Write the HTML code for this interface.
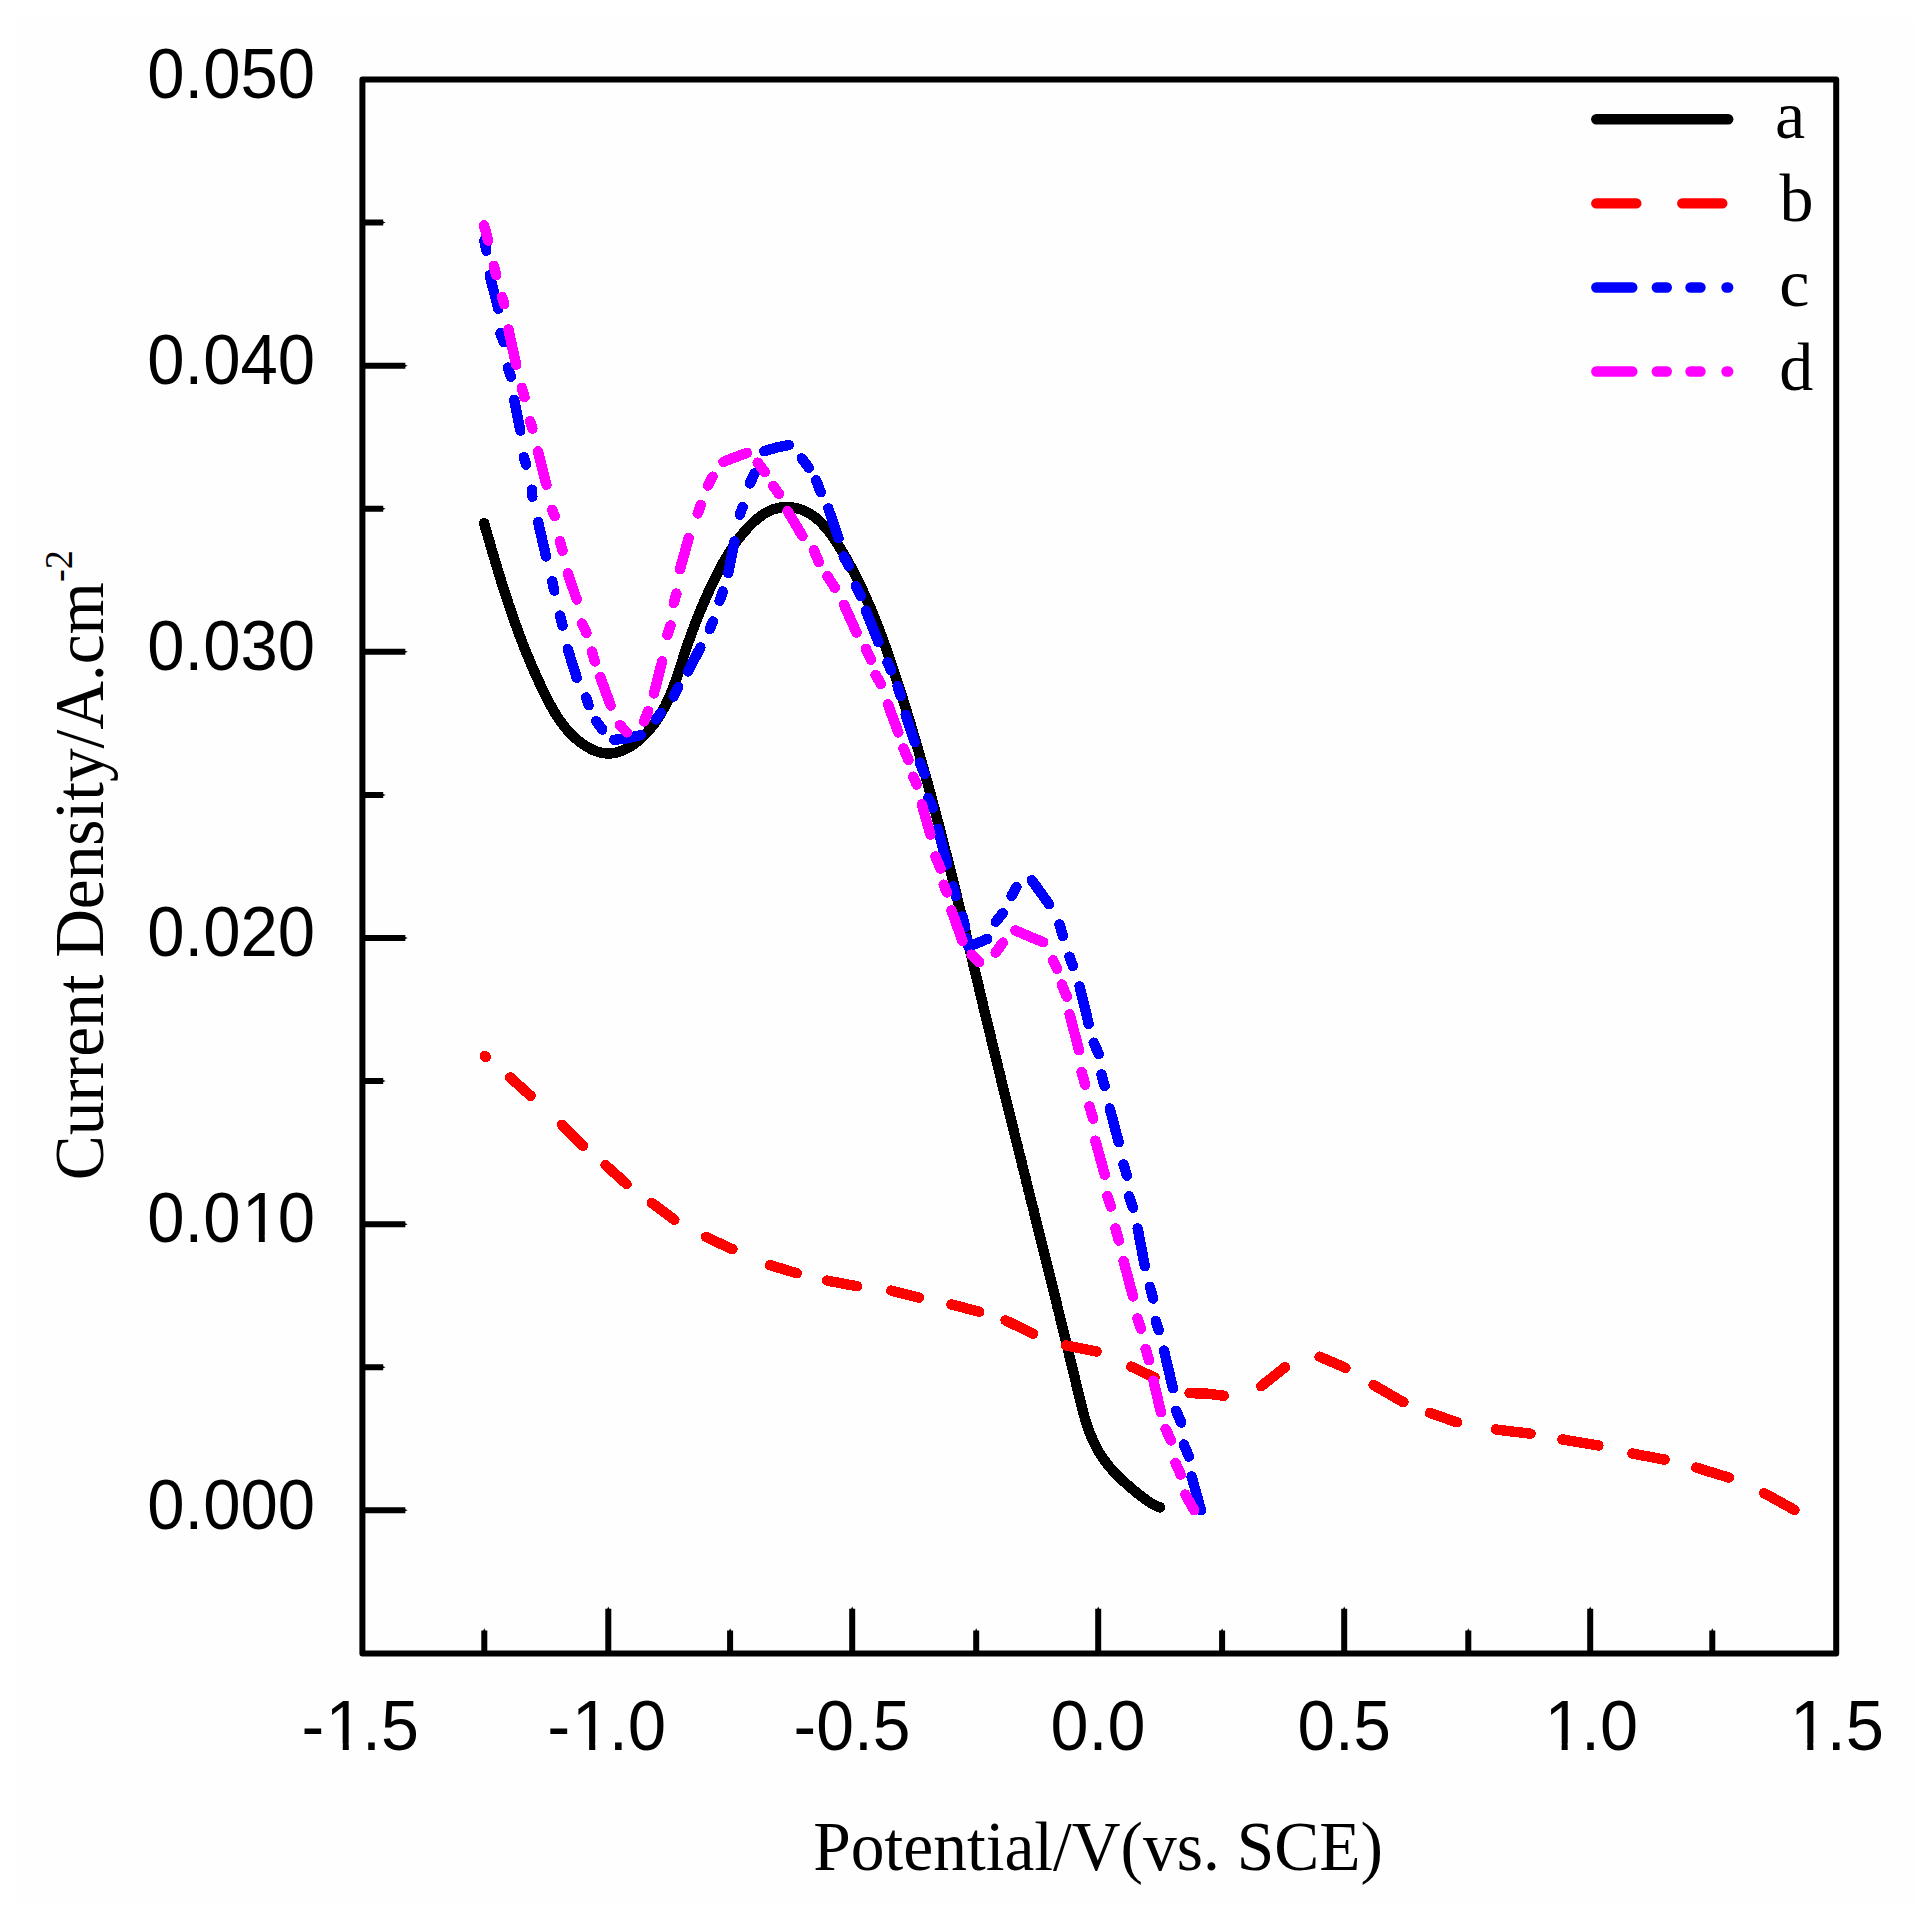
<!DOCTYPE html>
<html lang="en"><head><meta charset="utf-8">
<title>Current Density vs Potential</title>
<style>
html,body{margin:0;padding:0;background:#fff;}
body{width:1929px;height:1917px;overflow:hidden;}
svg{display:block;}
.tk{font-family:"Liberation Sans", Arial, Helvetica, sans-serif;font-size:70.5px;fill:#000;}
.sf{font-family:"Liberation Serif", "Times New Roman", Times, serif;font-size:70px;fill:#000;}
.ax{stroke:#000;stroke-width:6;fill:none;stroke-linecap:butt;}
.cv{fill:none;stroke-width:10.4;stroke-linecap:round;stroke-linejoin:round;}
</style></head><body>
<svg width="1929" height="1917" viewBox="0 0 1929 1917">
<rect x="0" y="0" width="1929" height="1917" fill="#ffffff"/>
<rect x="15" y="18" width="1900" height="1887" fill="#fefefe"/>
<g id="curves" shape-rendering="crispEdges">
<path class="cv" stroke="#000000" d="M484.1 523.1L485.2 527.0L486.3 530.9L487.4 534.7L488.6 538.6L489.7 542.5L490.8 546.4L491.9 550.3L493.1 554.1L494.2 558.0L495.4 561.9L496.5 565.7L497.7 569.6L498.9 573.5L500.1 577.3L501.2 581.2L502.4 585.0L503.7 588.9L504.9 592.7L506.1 596.6L507.4 600.4L508.6 604.2L509.9 608.0L511.2 611.9L512.5 615.7L513.9 619.5L515.2 623.3L516.6 627.1L517.9 630.9L519.3 634.6L520.8 638.4L522.2 642.2L523.6 645.9L525.1 649.7L526.6 653.4L528.2 657.1L529.7 660.9L531.3 664.6L532.9 668.3L534.5 672.0L536.1 675.7L537.8 679.3L539.5 683.0L541.2 686.6L543.0 690.3L544.8 693.9L546.6 697.5L548.4 701.1L550.3 704.7L552.3 708.3L554.3 711.8L556.4 715.2L558.6 718.6L560.9 721.9L563.3 725.2L565.8 728.3L568.5 731.4L571.3 734.4L574.2 737.2L577.3 739.9L580.6 742.5L584.0 744.9L587.5 747.1L591.1 749.1L594.7 750.7L598.5 752.0L602.2 752.9L606.0 753.4L609.7 753.5L613.5 753.1L617.2 752.4L620.8 751.2L624.4 749.7L628.0 747.9L631.4 745.8L634.8 743.5L638.1 740.9L641.3 738.1L644.3 735.2L647.2 732.2L650.0 729.0L652.6 725.8L655.1 722.5L657.4 719.1L659.6 715.7L661.7 712.3L663.6 708.8L665.5 705.2L667.2 701.7L668.9 698.0L670.5 694.4L672.0 690.7L673.4 687.0L674.8 683.2L676.1 679.5L677.4 675.7L678.7 671.9L679.9 668.1L681.2 664.3L682.4 660.5L683.6 656.6L684.9 652.8L686.1 649.0L687.4 645.1L688.7 641.3L690.1 637.5L691.4 633.7L692.8 629.9L694.3 626.1L695.7 622.3L697.2 618.5L698.7 614.8L700.2 611.0L701.8 607.3L703.4 603.6L705.0 599.9L706.6 596.2L708.3 592.5L710.0 588.8L711.7 585.1L713.5 581.5L715.3 577.9L717.1 574.3L718.9 570.7L720.8 567.2L722.7 563.6L724.6 560.1L726.7 556.7L728.7 553.2L730.9 549.8L733.1 546.5L735.3 543.2L737.7 539.9L740.2 536.7L742.7 533.6L745.3 530.5L748.1 527.5L750.9 524.5L753.9 521.7L757.0 519.0L760.2 516.5L763.5 514.2L767.0 512.1L770.5 510.4L774.2 509.0L778.1 508.0L782.0 507.3L786.0 507.0L790.1 507.2L794.1 507.7L798.0 508.6L801.9 509.8L805.6 511.4L809.2 513.3L812.6 515.5L815.8 517.8L818.8 520.4L821.7 523.2L824.4 526.2L827.0 529.3L829.5 532.4L831.9 535.7L834.2 539.1L836.5 542.4L838.7 545.9L840.8 549.3L843.0 552.7L845.0 556.2L847.0 559.7L849.0 563.2L850.9 566.8L852.8 570.4L854.7 573.9L856.5 577.5L858.3 581.1L860.1 584.8L861.8 588.4L863.5 592.1L865.2 595.7L866.8 599.4L868.4 603.1L870.0 606.8L871.6 610.5L873.1 614.2L874.6 618.0L876.1 621.7L877.6 625.5L879.0 629.2L880.5 633.0L881.9 636.8L883.2 640.6L884.6 644.3L886.0 648.1L887.3 652.0L888.6 655.8L890.0 659.6L891.3 663.4L892.5 667.2L893.8 671.1L895.1 674.9L896.3 678.7L897.6 682.6L898.8 686.4L900.1 690.2L901.3 694.1L902.5 697.9L903.7 701.8L904.9 705.6L906.1 709.5L907.3 713.3L908.5 717.2L909.7 721.1L910.8 724.9L912.0 728.8L913.1 732.7L914.3 736.5L915.4 740.4L916.6 744.3L917.7 748.1L918.8 752.0L919.9 755.9L921.0 759.8L922.1 763.6L923.2 767.5L924.3 771.4L925.4 775.3L926.5 779.2L927.6 783.1L928.6 787.0L929.7 790.9L930.8 794.7L931.8 798.6L932.9 802.5L933.9 806.4L935.0 810.3L936.0 814.2L937.0 818.1L938.0 822.0L939.1 825.9L940.1 829.8L941.1 833.7L942.1 837.7L943.1 841.6L944.1 845.5L945.1 849.4L946.1 853.3L947.1 857.2L948.1 861.1L949.1 865.0L950.1 868.9L951.1 872.9L952.0 876.8L953.0 880.7L954.0 884.6L955.0 888.5L955.9 892.4L956.9 896.4L957.8 900.3L958.8 904.2L959.8 908.1L960.7 912.1L961.7 916.0L962.6 919.9L963.6 923.8L964.5 927.7L965.5 931.7L966.4 935.6L967.4 939.5L968.3 943.4L969.3 947.4L970.2 951.3L971.1 955.2L972.1 959.1L973.0 963.1L974.0 967.0L974.9 970.9L975.8 974.9L976.8 978.8L977.7 982.7L978.7 986.6L979.6 990.6L980.5 994.5L981.5 998.4L982.4 1002.3L983.3 1006.3L984.3 1010.2L985.2 1014.1L986.2 1018.0L987.1 1022.0L988.1 1025.9L989.0 1029.8L990.0 1033.7L990.9 1037.6L991.9 1041.6L992.8 1045.5L993.8 1049.4L994.7 1053.3L995.7 1057.2L996.6 1061.2L997.6 1065.1L998.5 1069.0L999.5 1072.9L1000.5 1076.8L1001.4 1080.8L1002.4 1084.7L1003.3 1088.6L1004.3 1092.5L1005.3 1096.4L1006.2 1100.3L1007.2 1104.3L1008.2 1108.2L1009.1 1112.1L1010.1 1116.0L1011.1 1119.9L1012.0 1123.8L1013.0 1127.7L1014.0 1131.7L1014.9 1135.6L1015.9 1139.5L1016.9 1143.4L1017.9 1147.3L1018.8 1151.2L1019.8 1155.1L1020.8 1159.1L1021.8 1163.0L1022.7 1166.9L1023.7 1170.8L1024.7 1174.7L1025.7 1178.6L1026.6 1182.5L1027.6 1186.4L1028.6 1190.4L1029.6 1194.3L1030.5 1198.2L1031.5 1202.1L1032.5 1206.0L1033.5 1209.9L1034.4 1213.8L1035.4 1217.8L1036.4 1221.7L1037.4 1225.6L1038.3 1229.5L1039.3 1233.4L1040.3 1237.3L1041.3 1241.2L1042.2 1245.2L1043.2 1249.1L1044.2 1253.0L1045.2 1256.9L1046.1 1260.8L1047.1 1264.7L1048.1 1268.7L1049.0 1272.6L1050.0 1276.5L1051.0 1280.4L1052.0 1284.3L1052.9 1288.3L1053.9 1292.2L1054.9 1296.1L1055.8 1300.0L1056.8 1303.9L1057.7 1307.9L1058.7 1311.8L1059.7 1315.7L1060.6 1319.6L1061.6 1323.6L1062.5 1327.5L1063.5 1331.4L1064.5 1335.3L1065.4 1339.3L1066.4 1343.2L1067.3 1347.1L1068.3 1351.0L1069.2 1355.0L1070.2 1358.9L1071.1 1362.8L1072.1 1366.8L1073.0 1370.7L1074.0 1374.6L1074.9 1378.6L1075.9 1382.5L1076.8 1386.4L1077.7 1390.4L1078.7 1394.3L1079.6 1398.2L1080.6 1402.1L1081.6 1406.1L1082.6 1410.0L1083.6 1413.8L1084.7 1417.7L1085.9 1421.5L1087.1 1425.3L1088.4 1429.1L1089.8 1432.8L1091.3 1436.5L1092.9 1440.2L1094.5 1443.8L1096.3 1447.3L1098.2 1450.8L1100.3 1454.3L1102.5 1457.6L1104.8 1460.9L1107.3 1464.2L1109.9 1467.3L1112.6 1470.4L1115.4 1473.5L1118.4 1476.4L1121.3 1479.3L1124.4 1482.1L1127.5 1484.9L1130.6 1487.6L1133.8 1490.2L1136.9 1492.8L1140.1 1495.3L1143.2 1497.7L1146.3 1500.0L1149.5 1502.2L1152.9 1504.2L1156.4 1505.9L1160.2 1507.4"/>
<path class="cv" stroke="#ff0000" d="M484.8 1055.9L485.8 1056.9M510.1 1077.4L530.6 1095.8M562.0 1124.8L583.0 1145.8M605.6 1165.2L626.6 1184.0M652.0 1203.0L674.4 1219.7M706.0 1237.0L732.4 1249.2M770.0 1265.1L796.9 1273.3M827.0 1280.6L857.0 1286.2M891.3 1290.6L919.2 1297.6M951.4 1304.4L979.3 1311.8M1005.6 1320.4L1033.0 1333.7M1066.0 1345.3L1096.6 1351.6M1131.3 1366.6L1154.5 1377.6M1189.5 1393.2L1206.0 1393.5L1223.8 1395.7M1261.2 1386.2L1285.0 1367.2M1319.6 1356.7L1345.4 1367.8M1373.5 1385.0L1403.4 1402.2M1430.0 1413.0L1457.0 1422.3M1495.8 1429.5L1530.5 1433.7M1562.3 1439.4L1598.4 1445.5M1632.4 1453.5L1664.5 1459.6M1696.2 1467.6L1728.8 1477.6M1764.1 1493.1L1794.4 1509.9"/>
<path class="cv" stroke="#0000ff" d="M484.4 240.7L486.3 250.7M489.7 275.2L498.3 308.7M500.5 333.1L503.6 342.3M507.8 367.6L510.9 376.7M514.1 399.9L520.3 430.6M523.9 457.1L526.0 464.6M531.8 489.6L532.4 496.7M538.1 522.0L546.0 556.4M552.2 581.3L554.3 590.6M560.0 615.5L562.5 625.6M567.7 649.1L576.7 677.7M586.1 697.5L588.6 705.3M596.1 721.1L602.3 729.5M614.2 739.9L627.8 738.2L640.7 735.1M656.0 719.4L660.8 712.8M673.7 696.5L678.3 687.1M687.9 671.5L700.4 647.5M709.8 629.0L712.8 621.5M719.6 600.8L722.7 591.5M728.2 573.0L734.5 541.5M739.9 514.7L742.6 506.9M749.8 483.4L754.8 473.2M764.2 451.3L776.7 447.4L788.9 445.0M801.7 458.3L808.8 467.7M816.1 480.3L820.8 492.3M828.3 508.4L838.5 538.2M843.7 556.5L848.7 565.9M855.7 586.2L860.9 596.1M865.9 610.6L878.4 642.2M887.5 662.6L891.2 670.4M897.5 686.0L900.8 696.0M905.7 714.7L914.8 742.3M919.8 762.6L924.5 774.2M928.2 797.8L932.8 807.8M937.8 828.7L947.3 864.4M953.1 886.3L955.8 896.0M962.5 916.3L965.2 927.3M966.4 938.2L968.5 946.8L987.1 939.0M995.8 921.8L1002.7 913.2M1011.5 896.0L1016.5 886.9M1031.8 880.3L1049.0 904.1M1059.6 924.5L1062.9 936.1M1069.5 956.7L1072.9 966.0M1079.6 986.4L1088.7 1023.9M1093.7 1042.7L1098.8 1054.1M1101.5 1074.5L1104.6 1086.2M1109.8 1108.5L1118.7 1142.3M1123.5 1164.3L1126.9 1175.6M1129.1 1196.3L1133.0 1207.7M1137.7 1228.5L1144.8 1266.1M1149.9 1286.8L1153.1 1298.5M1155.7 1320.9L1158.8 1330.3M1164.0 1350.6L1172.9 1388.2M1176.1 1410.7L1181.2 1422.6M1183.9 1444.5L1188.8 1456.6M1191.6 1476.5L1201.0 1510.3"/>
<path class="cv" stroke="#ff00ff" d="M484.0 225.4L488.2 240.6M493.8 265.7L496.3 275.1M502.0 297.0L504.3 304.3M508.4 329.4L516.2 364.8M521.8 387.8L524.5 397.2M530.1 421.2L532.4 428.5M538.1 451.4L546.4 484.8M552.1 509.9L554.8 516.1M560.0 541.2L562.5 550.8M567.9 573.4L576.7 599.5M581.9 623.5L586.5 632.9M591.9 651.6L594.8 661.4M600.3 677.1L610.7 705.5M619.9 725.1L626.8 732.4M644.1 721.5L648.2 711.1M653.9 693.4L662.2 661.4M667.4 634.9L670.6 625.6M673.7 603.0L676.4 593.6M680.0 569.3L688.7 538.0M697.7 513.4L700.8 505.1M707.8 485.6L712.6 476.7M723.5 461.9L735.2 457.2L746.9 452.9M757.6 462.6L764.9 472.0M773.2 486.0L779.0 493.9M787.6 511.1L802.5 536.1M813.9 550.2L818.9 562.1M827.5 576.2L834.9 587.8M844.0 604.7L856.5 632.5M865.9 648.8L870.9 659.7M875.6 674.8L880.8 684.0M887.9 704.3L898.3 732.4M903.5 748.5L908.5 760.1M913.2 776.7L916.7 784.5M921.8 804.4L930.4 834.6M935.4 856.5L940.6 868.6M943.7 884.7L946.9 892.5M951.5 910.4L962.5 941.0M971.5 954.6L979.2 962.2M995.7 952.5L1002.8 942.6M1015.4 930.5L1043.3 942.3M1053.0 960.3L1057.1 968.9M1061.8 984.5L1066.8 996.7M1069.6 1014.2L1079.0 1050.2M1081.6 1072.1L1085.2 1084.7M1089.5 1106.6L1093.1 1118.8M1095.4 1140.7L1104.8 1174.8M1107.3 1196.2L1110.8 1206.6M1115.5 1228.5L1118.9 1240.6M1123.6 1260.9L1133.0 1296.5M1137.4 1318.4L1140.8 1328.7M1145.6 1348.8L1149.0 1360.3M1153.5 1380.7L1160.9 1412.3M1165.6 1428.9L1170.9 1440.4M1175.5 1462.8L1180.7 1474.6M1185.4 1494.6L1194.3 1510.3"/>
</g>
<g id="axes">
<rect x="362.4" y="79.5" width="1473.8" height="1573.9" fill="none" stroke="#000" stroke-width="6" stroke-linejoin="round"/>
<path fill="#000" d="M481.3 1653.4V1630.6L483.3 1630.6L484.3 1628.2L485.3 1630.6L487.3 1630.6V1653.4ZM605.3 1653.4V1608.8L607.3 1608.8L608.3 1606.4L609.3 1608.8L611.3 1608.8V1653.4ZM727.1 1653.4V1630.6L729.1 1630.6L730.1 1628.2L731.1 1630.6L733.1 1630.6V1653.4ZM849.2 1653.4V1608.8L851.2 1608.8L852.2 1606.4L853.2 1608.8L855.2 1608.8V1653.4ZM973.2 1653.4V1630.6L975.2 1630.6L976.2 1628.2L977.2 1630.6L979.2 1630.6V1653.4ZM1095.2 1653.4V1608.8L1097.2 1608.8L1098.2 1606.4L1099.2 1608.8L1101.2 1608.8V1653.4ZM1219.1 1653.4V1630.6L1221.1 1630.6L1222.1 1628.2L1223.1 1630.6L1225.1 1630.6V1653.4ZM1341.2 1653.4V1608.8L1343.2 1608.8L1344.2 1606.4L1345.2 1608.8L1347.2 1608.8V1653.4ZM1465.3 1653.4V1630.6L1467.3 1630.6L1468.3 1628.2L1469.3 1630.6L1471.3 1630.6V1653.4ZM1587.2 1653.4V1608.8L1589.2 1608.8L1590.2 1606.4L1591.2 1608.8L1593.2 1608.8V1653.4ZM1709.3 1653.4V1630.6L1711.3 1630.6L1712.3 1628.2L1713.3 1630.6L1715.3 1630.6V1653.4ZM362.4 1507.3H405.3L405.3 1509.3L407.7 1510.3L405.3 1511.3L405.3 1513.3H362.4ZM362.4 1364.2H383.2L383.2 1366.2L385.6 1367.2L383.2 1368.2L383.2 1370.2H362.4ZM362.4 1221.2H405.3L405.3 1223.2L407.7 1224.2L405.3 1225.2L405.3 1227.2H362.4ZM362.4 1078.1H383.2L383.2 1080.1L385.6 1081.1L383.2 1082.1L383.2 1084.1H362.4ZM362.4 935.0H405.3L405.3 937.0L407.7 938.0L405.3 939.0L405.3 941.0H362.4ZM362.4 791.9H383.2L383.2 793.9L385.6 794.9L383.2 795.9L383.2 797.9H362.4ZM362.4 648.8H405.3L405.3 650.8L407.7 651.8L405.3 652.8L405.3 654.8H362.4ZM362.4 505.7H383.2L383.2 507.7L385.6 508.7L383.2 509.7L383.2 511.7H362.4ZM362.4 362.7H405.3L405.3 364.7L407.7 365.7L405.3 366.7L405.3 368.7H362.4ZM362.4 219.6H383.2L383.2 221.6L385.6 222.6L383.2 223.6L383.2 225.6H362.4Z"/>
</g>
<g id="ticklabels" class="tk">
<text transform="translate(301.40 1750.1) scale(0.9676 1)" dx="0 1.55 -1.55">-1.5</text>
<text transform="translate(547.26 1750.1) scale(0.9796 1)" dx="0 1.55 -1.55">-1.0</text>
<text transform="translate(793.61 1750.1) scale(0.9624 1)">-0.5</text>
<text transform="translate(1050.46 1750.1) scale(0.9691 1)">0.0</text>
<text transform="translate(1297.49 1750.1) scale(0.9542 1)">0.5</text>
<text transform="translate(1542.91 1750.1) scale(0.9707 1)" dx="1.55 -1.55">1.0</text>
<text transform="translate(1788.48 1750.1) scale(0.9752 1)" dx="1.55 -1.55">1.5</text>
<text transform="translate(147.30 97.7) scale(0.9511 1)">0.050</text>
<text transform="translate(147.30 383.9) scale(0.9511 1)">0.040</text>
<text transform="translate(147.30 670.0) scale(0.9511 1)">0.030</text>
<text transform="translate(147.30 956.2) scale(0.9511 1)">0.020</text>
<text transform="translate(147.30 1242.4) scale(0.9511 1)" dx="0 0 0 1.55 -1.55">0.010</text>
<text transform="translate(147.30 1528.5) scale(0.9511 1)">0.000</text>
</g>
<path fill="#fefefe" d="M329.31 1743.23H342.76V1751.50H329.31ZM348.79 1743.23H361.72V1751.50H348.79ZM575.54 1743.23H589.14V1751.50H575.54ZM595.25 1743.23H608.31V1751.50H595.25ZM1548.13 1743.23H1561.63V1751.50H1548.13ZM1567.67 1743.23H1580.63V1751.50H1567.67ZM1793.72 1743.23H1807.28V1751.50H1793.72ZM1813.35 1743.23H1826.37V1751.50H1813.35ZM245.60 1235.49H258.85V1243.75H245.60ZM264.78 1235.49H277.51V1243.75H264.78Z"/>
<g id="titles" class="sf">
<text transform="translate(813.17 1870.3) scale(0.9641 1)">Potential/V(vs. SCE)</text>
<text transform="translate(102.8 1180.22) rotate(-90) scale(0.9617 1)">Current Density/A.cm<tspan font-size="40px" dy="-30.9">-2</tspan></text>
</g>
<g id="legend">
<path class="cv" stroke="#000000" stroke-width="10.5" d="M1596.3 119.3H1728.2"/>
<path class="cv" stroke="#ff0000" stroke-width="10.5" d="M1596.3 203.4h40M1682.3 203.4h40"/>
<path class="cv" stroke="#0000ff" stroke-width="10.5" d="M1596.3 287.5h36M1656.8 287.5h10M1690.5 287.5h10M1726.5 287.5h1.7"/>
<path class="cv" stroke="#ff00ff" stroke-width="10.5" d="M1596.3 371.5h36M1656.8 371.5h10M1690.5 371.5h10M1726.5 371.5h1.7"/>
<g class="sf">
<text x="1775.0" y="137.6" font-size="68px">a</text>
<text x="1779.4" y="221.3" font-size="68px">b</text>
<text x="1779.2" y="305.6" font-size="68px">c</text>
<text x="1779.2" y="389.9" font-size="68px">d</text>
</g>
</g>
</svg>
</body></html>
